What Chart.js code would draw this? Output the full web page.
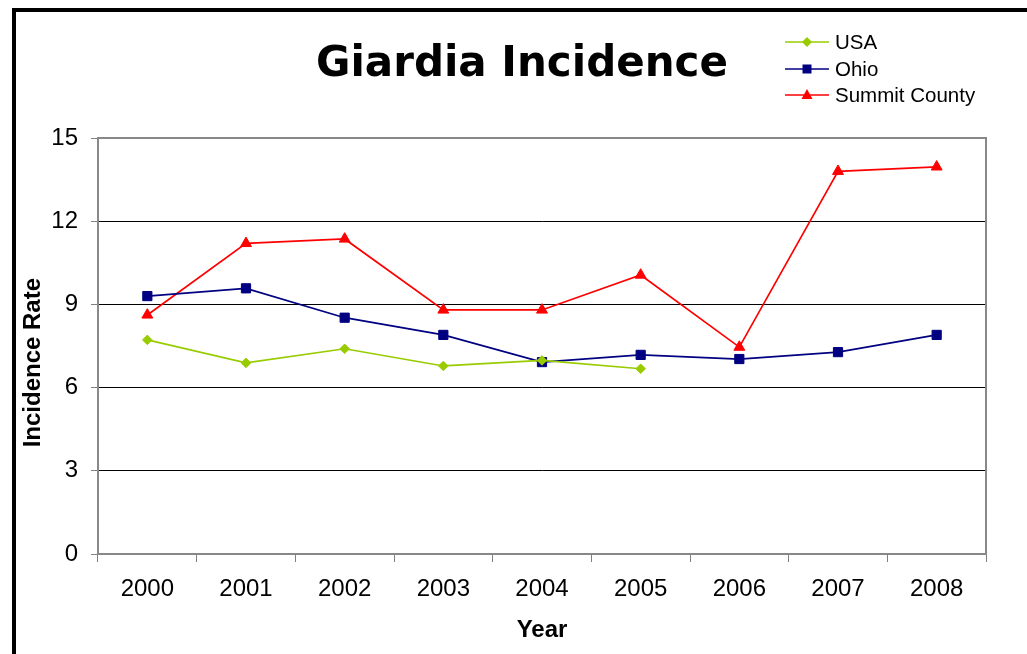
<html>
<head>
  <meta charset="UTF-8">
  <script src="https://cdn.jsdelivr.net/npm/chart.js@4.4.1/dist/chart.umd.min.js"></script>
  <style>
    body {padding: 0; margin: 0; background: #fff; overflow: hidden;}
    #frame {position: absolute; left: 12px; top: 8px; width: 1100px; height: 700px;
            border-left: 4px solid #000; border-top: 4px solid #000;}
    #wrap {position: absolute; left: 0; top: 0; width: 1027px; height: 654px;}
    #title {position: absolute; left: 222px; width: 600px; top: 37px; text-align: center;
            font: bold 42px "DejaVu Sans", Verdana, sans-serif; color: #000;}
    #legend {position: absolute; left: 784px; top: 30px; font: 20.5px "Liberation Sans", Arial, sans-serif;}
    #legend div {height: 26.5px; line-height: 24px; white-space: nowrap;}
    #legend svg {vertical-align: middle; margin-right: 5px; margin-top: -3px;}
  </style>
</head>

<body>
<div id="frame"></div>
<div id="wrap"><canvas id="myChart" width="1027" height="654"></canvas></div>
<div id="title">Giardia Incidence</div>
<div id="legend"></div>

<script>

// values
var years = ['2000', '2001', '2002', '2003', '2004', '2005', '2006', '2007', '2008'];
var usa = [7.72, 6.89, 7.4, 6.78, 6.98, 6.68, null, null, null];
var ohio = [9.3, 9.58, 8.52, 7.9, 6.92, 7.18, 7.03, 7.28, 7.9];
var summit = [8.62, 11.2, 11.36, 8.8, 8.8, 10.06, 7.46, 13.8, 13.96];
var yTicks = [0, 3, 6, 9, 12, 15];

var series = [
  {label: 'USA', data: usa, color: '#99cc00', shape: 'rectRot', r: 4.8},
  {label: 'Ohio', data: ohio, color: '#000080', shape: 'rect', r: 6.5},
  {label: 'Summit County', data: summit, color: '#ff0000', shape: 'triangle', r: 6.3}
];

var axisFont = {family: '"Liberation Sans", Arial, sans-serif', size: 24};
var titleFont = {family: '"Liberation Sans", Arial, sans-serif', size: 24, weight: 'bold'};

// gray frame around the plot area
var plotBorder = {
  id: 'plotBorder',
  beforeDatasetsDraw: function(chart) {
    var a = chart.chartArea, ctx = chart.ctx;
    ctx.save();
    ctx.strokeStyle = '#888';
    ctx.lineWidth = 2;
    ctx.strokeRect(a.left, a.top, a.right - a.left, a.bottom - a.top);
    ctx.restore();
  }
};

var ctx = document.getElementById('myChart').getContext('2d');
var myChart = new Chart(ctx, {
  type: 'line',
  data: {
    labels: years,
    datasets: series.map(function(s) {
      return {
        label: s.label,
        data: s.data,
        borderColor: s.color,
        backgroundColor: s.color,
        borderWidth: 1.7,
        pointStyle: s.shape,
        pointRadius: s.r,
        pointBorderWidth: 1,
        pointBorderColor: s.color,
        pointBackgroundColor: s.color,
        fill: false,
        tension: 0
      };
    })
  },
  options: {
    responsive: false,
    animation: false,
    events: [],
    layout: {padding: {left: 14, right: 41, top: 138, bottom: 0}},
    plugins: {legend: {display: false}, title: {display: false}, tooltip: {enabled: false}},
    scales: {
      x: {
        offset: true,
        grid: {offset: true, drawOnChartArea: false, drawTicks: true, tickLength: 8, color: '#808080'},
        border: {color: '#808080', width: 1.5},
        ticks: {color: '#000', font: axisFont, padding: 13, maxRotation: 0},
        title: {display: true, text: 'Year', color: '#000', font: titleFont, padding: {top: 4, bottom: 9}},
        afterFit: function(scale) { scale.height = 100; }
      },
      y: {
        min: 0,
        max: 15,
        afterBuildTicks: function(scale) {
          scale.ticks = yTicks.map(function(v) { return {value: v}; });
        },
        grid: {
          color: function(c) { return (c.tick.value === 0 || c.tick.value === 15) ? 'rgba(0,0,0,0)' : '#000'; },
          tickColor: '#808080',
          tickLength: 7,
          lineWidth: 1
        },
        border: {color: '#808080', width: 1.5},
        ticks: {color: '#000', font: axisFont, padding: 13},
        // trailing spaces push the rotated title a little lower, as in the original
        title: {display: true, text: 'Incidence Rate     ', color: '#000', font: titleFont, padding: {top: 5, bottom: 0}},
        afterFit: function(scale) { scale.width = 84; }
      }
    }
  },
  plugins: [plotBorder]
});

// legend built from the series list
function markerSvg(s) {
  var shape;
  if (s.shape === 'rectRot') shape = '<polygon points="23,5 28,10 23,15 18,10" fill="' + s.color + '"/>';
  else if (s.shape === 'rect') shape = '<rect x="18.5" y="5.5" width="9" height="9" fill="' + s.color + '"/>';
  else shape = '<polygon points="23,4 28.5,14 17.5,14" fill="' + s.color + '"/>';
  return '<svg width="46" height="20"><line x1="1" y1="10" x2="45" y2="10" stroke="' + s.color +
         '" stroke-width="1.7"/>' + shape + '</svg>';
}
var legend = document.getElementById('legend');
series.forEach(function(s) {
  var d = document.createElement('div');
  d.innerHTML = markerSvg(s) + s.label;
  legend.appendChild(d);
});

</script>
</body>
</html>
